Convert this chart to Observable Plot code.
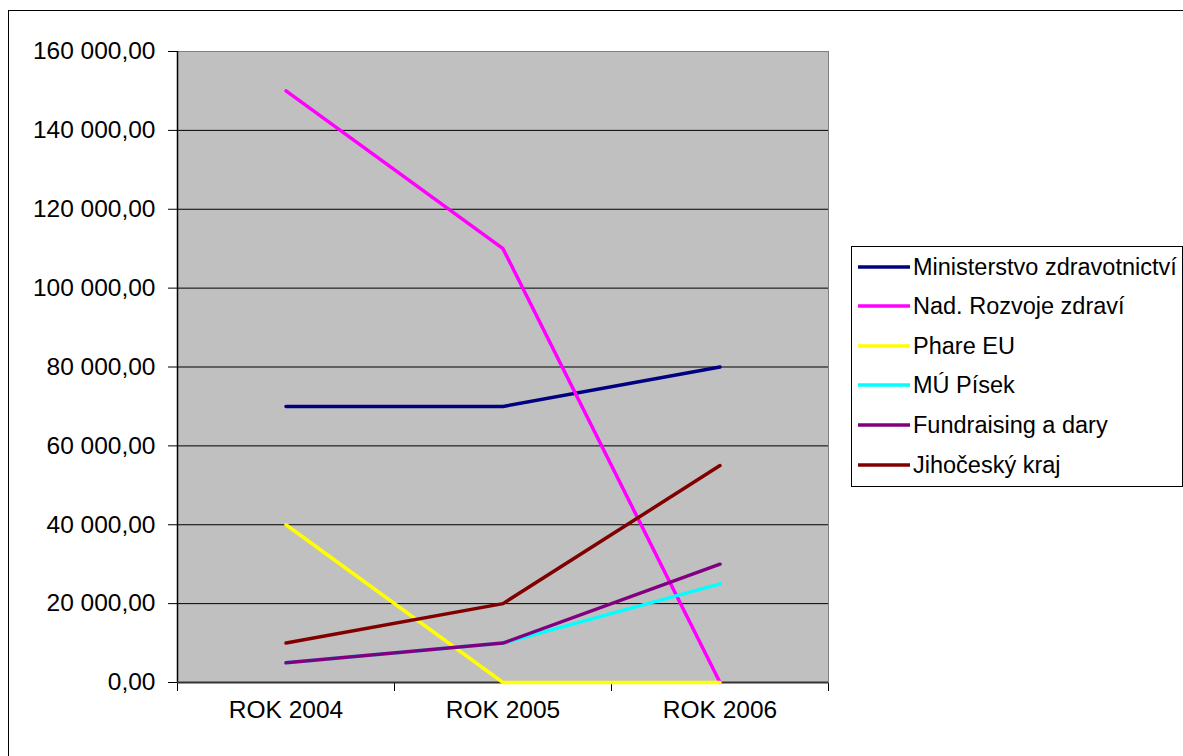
<!DOCTYPE html>
<html>
<head>
<meta charset="utf-8">
<script src="https://cdn.jsdelivr.net/npm/d3@7"></script>
<script src="https://cdn.jsdelivr.net/npm/@observablehq/plot@0.6"></script>
<style>
  html, body { margin: 0; padding: 0; background: #fff; }
  #wrap { position: relative; width: 1183px; height: 756px; overflow: hidden; font-family: "Liberation Sans", Arial, sans-serif; }
  #border { position: absolute; left: 8px; top: 10px; width: 1200px; height: 800px; border: 1px solid #000; box-sizing: border-box; }
  #chart { position: absolute; left: 0; top: 0; }
  #legend { position: absolute; left: 851px; top: 246px; width: 332px; height: 241px; border: 1px solid #000; box-sizing: border-box; background: #fff; }
  .row { position: absolute; left: 0; height: 30px; display: flex; align-items: center; }
  .row svg { margin-left: 6px; }
  .row span { margin-left: 3px; font-size: 23.5px; color: #000; white-space: nowrap; }
</style>
</head>
<body>
<div id="wrap">
  <div id="border"></div>
  <div id="chart"></div>
  <div id="legend"></div>
</div>
<script>
const categories = ["ROK 2004", "ROK 2005", "ROK 2006"];
const seriesNames = ["Ministerstvo zdravotnictví", "Nad. Rozvoje zdraví", "Phare EU", "MÚ Písek", "Fundraising a dary", "Jihočeský kraj"];
const seriesColors = ["#000080", "#FF00FF", "#FFFF00", "#00FFFF", "#800080", "#800000"];
const ministerstvo = [70000, 70000, 80000];
const nadace = [150000, 110000, 0];
const phare = [40000, 0, 0];
const muPisek = [5000, 10000, 25000];
const fundraising = [5000, 10000, 30000];
const jihocesky = [10000, 20000, 55000];
const yTicks = [0, 20000, 40000, 60000, 80000, 100000, 120000, 140000, 160000];

const seriesValues = [ministerstvo, nadace, phare, muPisek, fundraising, jihocesky];
const data = [];
seriesNames.forEach((name, s) => {
  seriesValues[s].forEach((v, i) => data.push({series: name, i, category: categories[i], value: v}));
});

const fmt = d3.formatLocale({decimal: ",", thousands: " ", grouping: [3], currency: ["", ""]}).format(",.2f");

const chart = Plot.plot({
  width: 1183,
  height: 756,
  marginLeft: 177,
  marginRight: 355,
  marginTop: 51,
  marginBottom: 74,
  style: {fontFamily: "'Liberation Sans', Arial, sans-serif", fontSize: "24.5px", color: "#000", background: "transparent"},
  x: {type: "linear", domain: [-0.5, 2.5], ticks: [-0.5, 0.5, 1.5, 2.5], tickFormat: () => "", tickSize: 9, label: null},
  y: {domain: [0, 160000], ticks: yTicks, tickFormat: fmt, tickSize: 9, tickPadding: 13, label: null},
  color: {domain: seriesNames, range: seriesColors},
  marks: [
    Plot.frame({fill: "#C0C0C0", stroke: "#808080"}),
    Plot.ruleY(yTicks.filter(d => d > 0 && d < 160000), {stroke: "#000", strokeWidth: 1}),
    Plot.ruleX([-0.5], {stroke: "#000", strokeWidth: 1.5}),
    Plot.ruleY([0], {stroke: "#333", strokeWidth: 2}),
    Plot.line(data, {x: "i", y: "value", z: "series", stroke: "series", strokeWidth: 3.5}),
    Plot.text(categories, {x: (d, i) => i, frameAnchor: "bottom", dy: 35, text: d => d, fontSize: 24.5, fill: "#000"})
  ]
});
document.getElementById("chart").appendChild(chart);

const legend = document.getElementById("legend");
const rowTops = [267, 306, 346, 385, 425, 465];
seriesNames.forEach((name, s) => {
  const row = document.createElement("div");
  row.className = "row";
  row.style.top = (rowTops[s] - 246 - 1 - 15) + "px";
  row.innerHTML = `<svg width="52" height="6"><line x1="0" x2="52" y1="3" y2="3" stroke="${seriesColors[s]}" stroke-width="3.5"/></svg><span>${name}</span>`;
  legend.appendChild(row);
});
</script>
</body>
</html>
